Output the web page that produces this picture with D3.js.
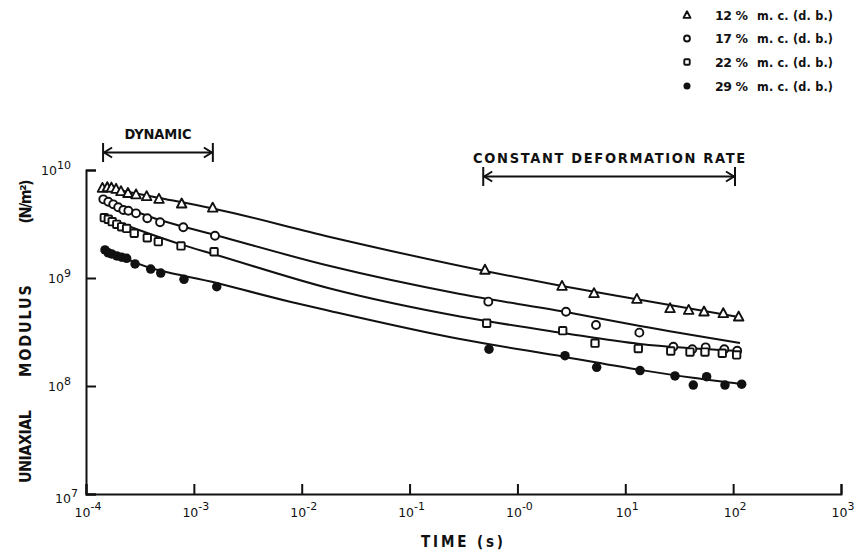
<!DOCTYPE html>
<html>
<head>
<meta charset="utf-8">
<script src="https://cdn.jsdelivr.net/npm/d3@7/dist/d3.min.js"></script>
<style>
  html, body { margin: 0; padding: 0; background: #fff; }
  svg { display: block; }
  text { font-family: "DejaVu Sans", sans-serif; fill: #111; }
  text.cond { font-family: "DejaVu Sans Condensed", "DejaVu Sans", sans-serif; font-stretch: condensed; }
</style>
</head>
<body>
<svg id="chart" width="858" height="552"></svg>
<script>
// ---------- data ----------
const seriesNames = ["12 %", "17 %", "22 %", "29 %"];
const legendSuffix = "m. c.  (d. b.)";
const xTickValues = [1e-4, 1e-3, 1e-2, 1e-1, 1e0, 1e1, 1e2, 1e3];
const xTickExps = ["-4", "-3", "-2", "-1", "-0", "1", "2", "3"];
const yTickValues = [1e7, 1e8, 1e9, 1e10];
const yTickExps = ["7", "8", "9", "10"];

// measured points: time (s) and modulus (N/m^2)
const t12 = [1.42e-4,1.575e-4,1.72e-4,1.90e-4,2.11e-4,2.45e-4,2.91e-4,3.65e-4,4.75e-4,7.71e-4,1.495e-3, 0.5,2.59,5.13,12.8,26,38.7,53.7,81,112.5];
const v12 = [6.81e9,6.91e9,6.85e9,6.67e9,6.35e9,6.10e9,5.93e9,5.71e9,5.39e9,4.88e9,4.47e9, 1.19e9,8.43e8,7.22e8,6.39e8,5.24e8,5.05e8,4.88e8,4.71e8,4.38e8];
const t17 = [1.447e-4,1.61e-4,1.79e-4,1.99e-4,2.22e-4,2.47e-4,2.91e-4,3.70e-4,4.86e-4,7.98e-4,1.57e-3, 0.537,2.82,5.35,13.5,27.9,41.8,55.6,82.8,109];
const v17 = [5.35e9,5.08e9,4.81e9,4.52e9,4.26e9,4.20e9,3.97e9,3.57e9,3.28e9,2.95e9,2.46e9, 6.04e8,4.87e8,3.67e8,3.12e8,2.31e8,2.19e8,2.28e8,2.19e8,2.12e8];
const t22 = [1.478e-4,1.61e-4,1.75e-4,1.93e-4,2.14e-4,2.38e-4,2.80e-4,3.70e-4,4.68e-4,7.60e-4,1.54e-3, 0.519,2.63,5.24,13.2,26.4,39.8,54.8,79.3,107.8];
const v22 = [3.62e9,3.50e9,3.32e9,3.14e9,2.98e9,2.88e9,2.59e9,2.36e9,2.17e9,1.98e9,1.75e9, 3.81e8,3.25e8,2.49e8,2.22e8,2.11e8,2.06e8,2.06e8,2.01e8,1.94e8];
const t29 = [1.50e-4,1.61e-4,1.73e-4,1.93e-4,2.14e-4,2.38e-4,2.85e-4,3.98e-4,4.93e-4,8.10e-4,1.63e-3, 0.545,2.76,5.43,13.7,28.9,42.7,56.8,84.0,120];
const v29 = [1.82e9,1.71e9,1.67e9,1.60e9,1.56e9,1.52e9,1.35e9,1.21e9,1.11e9,9.73e8,8.3e8, 2.19e8,1.91e8,1.49e8,1.39e8,1.24e8,1.02e8,1.22e8,1.02e8,1.04e8];

// fitted curves
const fitT1 = [1.44e-4,4.55e-4,1.505e-3,1.83e-2,0.5,2.59,12.8,115.7];
const fitV1 = [6.96e9,5.57e9,4.40e9,2.40e9,1.16e9,8.43e8,6.35e8,4.33e8];
const fitT2 = [1.437e-4,4.86e-4,1.57e-3,1.83e-2,0.2935,2.82,13.7,115.7];
const fitV2 = [5.39e9,3.44e9,2.50e9,1.29e9,7.11e8,4.84e8,3.59e8,2.50e8];
const fitT3 = [1.437e-4,7.44e-4,1.57e-3,1.83e-2,0.2935,2.645,13.7,115.7];
const fitV3 = [3.69e9,2.06e9,1.65e9,7.99e8,4.40e8,3.10e8,2.45e8,2.11e8];
const fitT4 = [1.50e-4,2.73e-4,1.64e-3,7.79e-3,1.83e-2,0.2935,2.76,13.7,42.4,120.8];
const fitV4 = [1.90e9,1.42e9,8.99e8,6.03e8,4.95e8,2.72e8,1.86e8,1.41e8,1.19e8,1.04e8];

// range annotations (time spans)
const dynamicSpan = [1.44e-4, 1.5e-3];
const rateSpan = [0.482, 104];

// ---------- drawing ----------
const ink = "#111";
const svg = d3.select("#chart");

const x = d3.scaleLog().domain([1e-4, 1e3]).range([86, 841]);
const y = d3.scaleLog().domain([1e7, 1e10]).range([494, 170]);

const zip = (ts, vs) => ts.map((t, i) => ({t, v: vs[i]}));
const series = [
  {name: seriesNames[0], sym: "tri",  pts: zip(t12, v12), fit: zip(fitT1, fitV1)},
  {name: seriesNames[1], sym: "circ", pts: zip(t17, v17), fit: zip(fitT2, fitV2)},
  {name: seriesNames[2], sym: "sq",   pts: zip(t22, v22), fit: zip(fitT3, fitV3)},
  {name: seriesNames[3], sym: "dot",  pts: zip(t29, v29), fit: zip(fitT4, fitV4)}
];

// axes
const xAxis = d3.axisBottom(x).tickValues(xTickValues).tickFormat(() => "")
  .tickSizeInner(-10).tickSizeOuter(-10);
const yAxis = d3.axisLeft(y).tickValues(yTickValues).tickFormat(() => "")
  .tickSizeInner(-10).tickSizeOuter(-10);
const gx = svg.append("g").attr("transform", "translate(0,494)").call(xAxis);
const gy = svg.append("g").attr("transform", "translate(86,0)").call(yAxis);
[gx, gy].forEach(g => {
  g.selectAll("path, line").attr("stroke", ink).attr("stroke-width", 2);
});

// x tick labels
xTickValues.forEach((v, i) => {
  const t = svg.append("text").attr("x", x(v) + 2).attr("y", 517)
    .attr("text-anchor", "middle").style("font-size", "12.5px");
  t.append("tspan").text("10");
  t.append("tspan").attr("dy", -7).style("font-size", "11px").text(xTickExps[i]);
});
// y tick labels
yTickValues.forEach((v, i) => {
  const is7 = i === 0;
  const t = svg.append("text").attr("x", is7 ? 78 : 71).attr("y", is7 ? 503 : y(v) + 5)
    .attr("text-anchor", "end").style("font-size", "12.5px");
  t.append("tspan").text("10");
  t.append("tspan").attr("dy", -6).style("font-size", "11px").text(yTickExps[i]);
});

// axis titles
svg.append("text").attr("class", "cond").attr("x", 421).attr("y", 547)
  .style("font-size", "15px").style("font-weight", "bold")
  .attr("textLength", 82).attr("lengthAdjust", "spacing")
  .text("TIME (s)");
const yTitle = [
  {txt: "UNIAXIAL", c: 446.5, len: 73},
  {txt: "MODULUS", c: 331, len: 92},
  {txt: "(N/m\u00B2)", c: 201.5, len: 44}
];
yTitle.forEach(d => {
  svg.append("text").attr("class", "cond")
    .attr("transform", `translate(31,${d.c}) rotate(-90)`)
    .attr("text-anchor", "middle").style("font-size", "16px").style("font-weight", "bold")
    .attr("textLength", d.len).attr("lengthAdjust", "spacing")
    .text(d.txt);
});

// fitted lines
const line = d3.line().x(d => x(d.t)).y(d => y(d.v)).curve(d3.curveMonotoneX);
svg.append("g").selectAll("path").data(series).join("path")
  .attr("d", d => line(d.fit)).attr("fill", "none")
  .attr("stroke", ink).attr("stroke-width", 2);

// markers
function drawSymbol(g, sym, cx, cy, s) {
  if (sym === "tri") {
    const h = s * 0.9;
    g.append("path")
      .attr("d", `M${cx},${cy - h * 0.6} L${cx + s / 2},${cy + h * 0.45} L${cx - s / 2},${cy + h * 0.45} Z`)
      .attr("fill", "#fff").attr("stroke", ink).attr("stroke-width", 1.9)
      .attr("stroke-linejoin", "round");
  } else if (sym === "circ") {
    g.append("circle").attr("cx", cx).attr("cy", cy).attr("r", s * 0.42)
      .attr("fill", "#fff").attr("stroke", ink).attr("stroke-width", 1.9);
  } else if (sym === "sq") {
    const a = s * 0.78;
    g.append("rect").attr("x", cx - a / 2).attr("y", cy - a / 2).attr("width", a).attr("height", a)
      .attr("rx", 1).attr("fill", "#fff").attr("stroke", ink).attr("stroke-width", 1.9);
  } else {
    g.append("circle").attr("cx", cx).attr("cy", cy).attr("r", s * 0.5).attr("fill", ink);
  }
}
const gm = svg.append("g");
series.forEach(s => {
  s.pts.forEach(p => drawSymbol(gm, s.sym, x(p.t), y(p.v), 9.5));
});

// legend
const legendRows = [15, 38.5, 62, 86];
series.forEach((s, i) => {
  const gy0 = legendRows[i];
  drawSymbol(svg, s.sym, 687, gy0, 7);
  svg.append("text").attr("x", 715).attr("y", gy0 + 4.5)
    .style("font-size", "12.5px").style("font-weight", "bold")
    .attr("textLength", 33).attr("lengthAdjust", "spacing")
    .text(s.name);
  svg.append("text").attr("class", "cond").attr("x", 757).attr("y", gy0 + 4.5)
    .style("font-size", "12.5px").style("font-weight", "bold")
    .attr("textLength", 76).attr("lengthAdjust", "spacing")
    .text(legendSuffix);
});

// range arrows
function rangeArrow(span, yy, label, labelY, labelLen) {
  const x1 = x(span[0]), x2 = x(span[1]);
  const g = svg.append("g").attr("stroke", ink).attr("stroke-width", 2).attr("fill", "none");
  g.append("line").attr("x1", x1).attr("x2", x2).attr("y1", yy).attr("y2", yy);
  g.append("line").attr("x1", x1).attr("x2", x1).attr("y1", yy - 9.5).attr("y2", yy + 9.5);
  g.append("line").attr("x1", x2).attr("x2", x2).attr("y1", yy - 9.5).attr("y2", yy + 9.5);
  g.append("path").attr("d", `M${x1 + 9},${yy - 5} L${x1 + 1},${yy} L${x1 + 9},${yy + 5}`);
  g.append("path").attr("d", `M${x2 - 9},${yy - 5} L${x2 - 1},${yy} L${x2 - 9},${yy + 5}`);
  svg.append("text").attr("class", "cond").attr("x", (x1 + x2) / 2).attr("y", labelY)
    .attr("text-anchor", "middle").style("font-size", "14.5px").style("font-weight", "bold")
    .attr("textLength", labelLen).attr("lengthAdjust", "spacing").text(label);
}
rangeArrow(dynamicSpan, 152.5, "DYNAMIC", 139, 67);
rangeArrow(rateSpan, 176.5, "CONSTANT  DEFORMATION  RATE", 163, 272);
</script>
</body>
</html>
